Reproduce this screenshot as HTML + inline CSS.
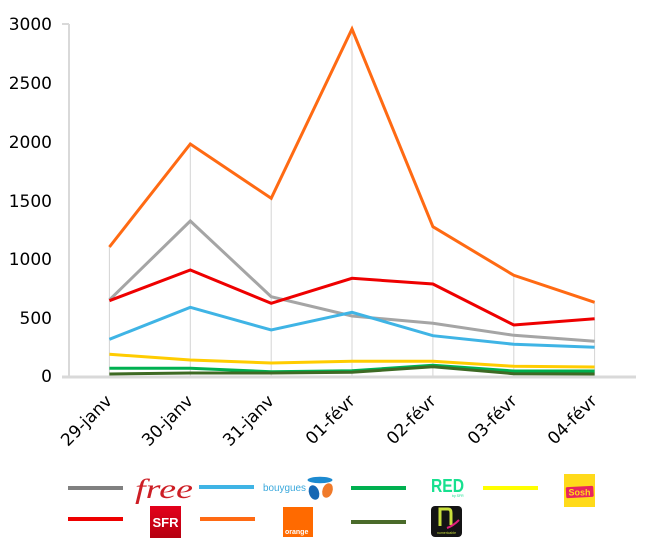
<!DOCTYPE html>
<html>
<head>
<meta charset="utf-8">
<style>
  html, body { margin:0; padding:0; background:#ffffff; }
  svg { display:block; }
  .yl { font-family: "DejaVu Sans", "Liberation Sans", sans-serif; font-size:17px; fill:#000; }
  .xl { font-family: "DejaVu Sans", "Liberation Sans", sans-serif; font-size:17px; fill:#000; }
</style>
</head>
<body>
<svg width="646" height="543" viewBox="0 0 646 543" xmlns="http://www.w3.org/2000/svg">
  <rect x="0" y="0" width="646" height="543" fill="#ffffff"/>

  <!-- drop lines -->
  <g stroke="#d4d4d4" stroke-width="1">
    <line x1="109.4" y1="247" x2="109.4" y2="376"/>
    <line x1="190.3" y1="144" x2="190.3" y2="376"/>
    <line x1="271.2" y1="198.3" x2="271.2" y2="376"/>
    <line x1="352.0" y1="29" x2="352.0" y2="376"/>
    <line x1="432.9" y1="226.7" x2="432.9" y2="376"/>
    <line x1="513.8" y1="275.3" x2="513.8" y2="376"/>
    <line x1="594.6" y1="302.3" x2="594.6" y2="376"/>
  </g>

  <!-- axes -->
  <line x1="69" y1="24" x2="69" y2="377" stroke="#d9d9d9" stroke-width="2"/>
  <line x1="62" y1="24" x2="69" y2="24" stroke="#d9d9d9" stroke-width="2"/>
  <line x1="62" y1="377" x2="636" y2="377" stroke="#d9d9d9" stroke-width="3"/>

  <!-- y labels -->
  <g class="yl" text-anchor="end">
    <text x="52" y="30">3000</text>
    <text x="52" y="89">2500</text>
    <text x="52" y="148">2000</text>
    <text x="52" y="207">1500</text>
    <text x="52" y="265">1000</text>
    <text x="52" y="324">500</text>
    <text x="52" y="382">0</text>
  </g>

  <!-- series -->
  <g fill="none" stroke-width="3" stroke-linejoin="miter" stroke-linecap="butt">
    <polyline stroke="#a5a5a5" points="109.4,300 190.3,221 271.2,296.7 352,316 432.9,323.3 513.8,335.3 594.6,341.3"/>
    <polyline stroke="#3fb4e5" points="109.4,339.3 190.3,307.3 271.2,330 352,312.3 432.9,335.7 513.8,344.3 594.6,347.3"/>
    <polyline stroke="#00b050" points="109.4,368.3 190.3,368.3 271.2,371.7 352,370.7 432.9,365.3 513.8,371 594.6,371"/>
    <polyline stroke="#ffcc00" points="109.4,354.3 190.3,360 271.2,363 352,361.3 432.9,361.3 513.8,366.3 594.6,367"/>
    <polyline stroke="#ee0000" points="109.4,300.7 190.3,270 271.2,303.3 352,278.3 432.9,284 513.8,325 594.6,318.7"/>
    <polyline stroke="#ff6a13" points="109.4,247 190.3,144 271.2,198.3 352,29 432.9,226.7 513.8,275.3 594.6,302.3"/>
    <polyline stroke="#3e6a24" points="109.4,374 190.3,373 271.2,373 352,372.3 432.9,366.7 513.8,373.7 594.6,374"/>
  </g>

  <!-- x labels -->
  <g class="xl" text-anchor="end">
    <text transform="translate(113,402) rotate(-45)">29-janv</text>
    <text transform="translate(194,402) rotate(-45)">30-janv</text>
    <text transform="translate(275,402) rotate(-45)">31-janv</text>
    <text transform="translate(356,402) rotate(-45)">01-févr</text>
    <text transform="translate(437,402) rotate(-45)">02-févr</text>
    <text transform="translate(518,402) rotate(-45)">03-févr</text>
    <text transform="translate(598,402) rotate(-45)">04-févr</text>
  </g>

  <!-- legend lines -->
  <g stroke-width="4">
    <line x1="68" y1="488" x2="123" y2="488" stroke="#808080"/>
    <line x1="199" y1="487" x2="254" y2="487" stroke="#3fb4e5"/>
    <line x1="351" y1="488" x2="406" y2="488" stroke="#00b050"/>
    <line x1="483" y1="488" x2="538" y2="488" stroke="#ffff00"/>
    <line x1="68" y1="519" x2="123" y2="519" stroke="#ee0000"/>
    <line x1="200" y1="519" x2="255" y2="519" stroke="#ff6a13"/>
    <line x1="351" y1="522" x2="406" y2="522" stroke="#4a6b2a"/>
  </g>

  <!-- Free logo -->
  <text x="135" y="498" font-family="Liberation Serif, serif" font-style="italic" font-size="27" fill="#cd1e25" textLength="58" lengthAdjust="spacingAndGlyphs">free</text>

  <!-- Bouygues logo -->
  <text x="263" y="491" font-family="Liberation Sans, sans-serif" font-size="10" fill="#3aa8dc" textLength="43" lengthAdjust="spacingAndGlyphs">bouygues</text>
  <ellipse cx="320" cy="480" rx="12.5" ry="3.2" fill="#1d8ad0"/>
  <ellipse cx="314" cy="492.5" rx="5" ry="7.5" fill="#1667b3" transform="rotate(-20 314 492.5)"/>
  <ellipse cx="327.5" cy="490.5" rx="5" ry="7.5" fill="#f07a2a" transform="rotate(20 327.5 490.5)"/>

  <!-- SFR logo -->
  <defs>
    <linearGradient id="sfrg" x1="0" y1="0" x2="0" y2="1">
      <stop offset="0" stop-color="#e4001b"/>
      <stop offset="1" stop-color="#b50010"/>
    </linearGradient>
  </defs>
  <rect x="150" y="506" width="31" height="32" fill="url(#sfrg)"/>
  <text x="165.5" y="527" text-anchor="middle" font-family="Liberation Sans, sans-serif" font-weight="bold" font-size="13" fill="#ffffff">SFR</text>

  <!-- Orange logo -->
  <rect x="283" y="507" width="30" height="30" fill="#ff6a00"/>
  <text x="285" y="534" font-family="Liberation Sans, sans-serif" font-weight="bold" font-size="7" fill="#ffffff">orange</text>

  <!-- RED logo -->
  <text x="431" y="492" font-family="Liberation Sans, sans-serif" font-weight="bold" font-size="18" fill="#17e08f" textLength="33" lengthAdjust="spacingAndGlyphs">RED</text>
  <text x="452" y="497" font-family="Liberation Sans, sans-serif" font-size="3.5" fill="#17e08f">by SFR</text>

  <!-- Sosh logo -->
  <rect x="564" y="474" width="31" height="33" fill="#ffda1a"/>
  <rect x="566" y="486.5" width="27.5" height="11" rx="1.5" fill="#e8245f" transform="rotate(-3 580 492)"/>
  <text x="579.5" y="495.5" text-anchor="middle" font-family="Liberation Sans, sans-serif" font-weight="bold" font-size="9" fill="#ffda1a">Sosh</text>

  <!-- Numericable logo -->
  <rect x="431" y="506" width="31" height="31" rx="4" fill="#141414"/>
  <path d="M440 526 L440 509 L448 509 Q451 509 451 513 L451 525" fill="none" stroke="#c9df3c" stroke-width="3"/>
  <path d="M447 528 Q453 526 459 520" fill="none" stroke="#e0207a" stroke-width="2"/>
  <text x="446.5" y="534" text-anchor="middle" font-family="Liberation Sans, sans-serif" font-size="3.5" fill="#c9df3c">numericable</text>
</svg>
</body>
</html>
